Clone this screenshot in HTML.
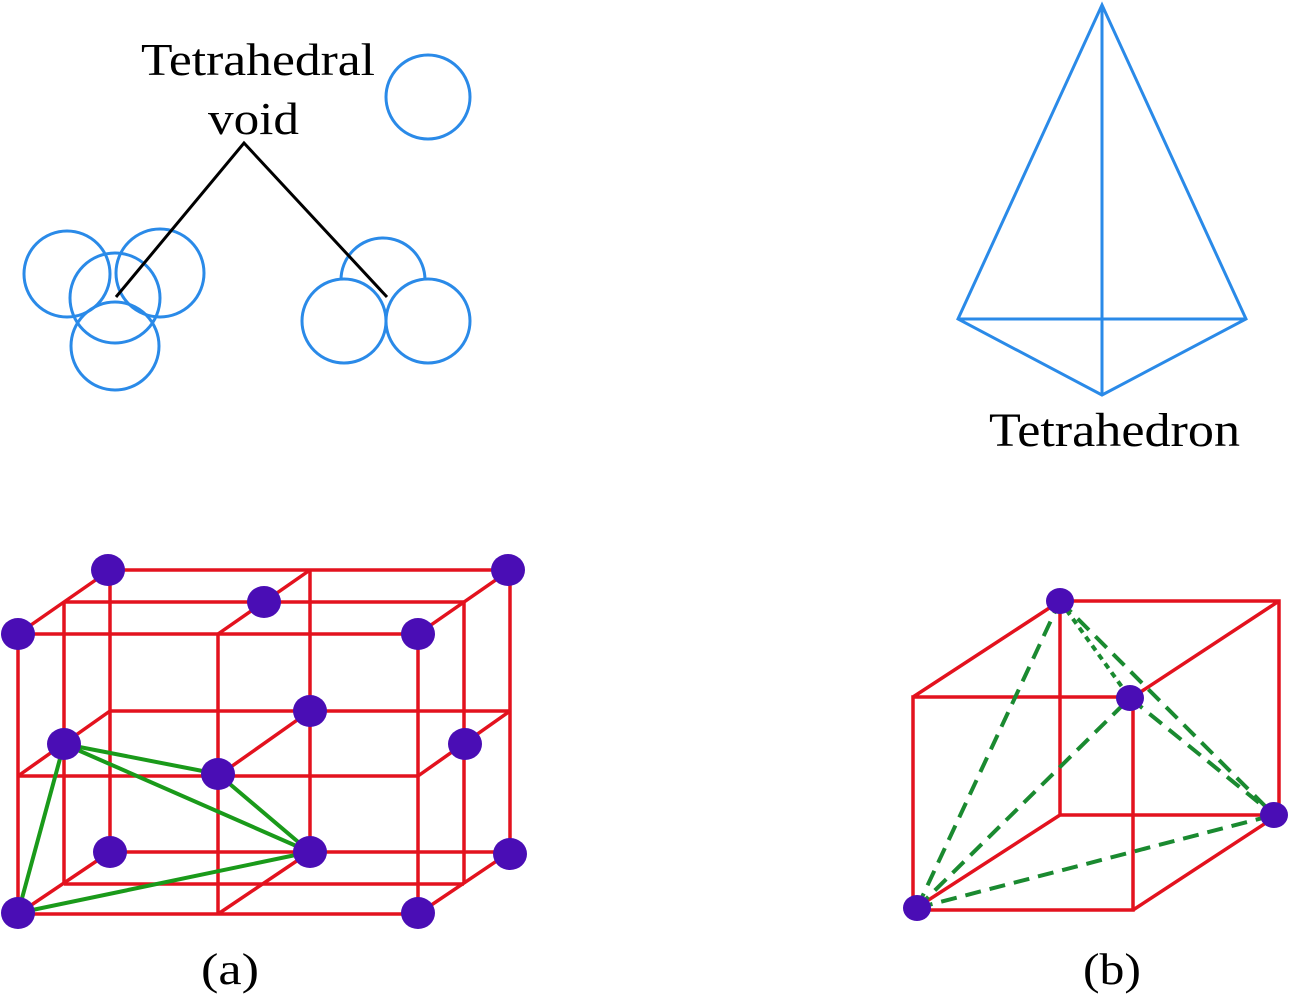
<!DOCTYPE html>
<html><head><style>body{margin:0;background:#fff}svg{display:block}</style></head><body>
<svg width="1289" height="1004" viewBox="0 0 1289 1004" xmlns="http://www.w3.org/2000/svg">
<g fill="none" stroke="#2a8ae8" stroke-width="3">
<circle cx="428" cy="97" r="42"/>
<circle cx="67" cy="274" r="43"/>
<circle cx="160" cy="273" r="44"/>
<circle cx="115" cy="298" r="45"/>
<circle cx="115" cy="346" r="44"/>
<circle cx="383" cy="280" r="42"/>
<circle cx="344" cy="321" r="42" fill="#fff"/>
<circle cx="428" cy="321" r="42" fill="#fff"/>
<path d="M1102 5L958 319L1102 395L1246 319ZM1102 5V395M958 319H1246"/>
</g>
<path d="M116 297L244 143L387 297" fill="none" stroke="#000" stroke-width="3"/>
<g font-family="Liberation Serif, serif" fill="#000">
<text x="141" y="75" font-size="46" textLength="234" lengthAdjust="spacingAndGlyphs">Tetrahedral</text>
<text x="208" y="134" font-size="46" textLength="91" lengthAdjust="spacingAndGlyphs">void</text>
<text x="989" y="446" font-size="48" textLength="251" lengthAdjust="spacingAndGlyphs">Tetrahedron</text>
<text x="201" y="984" font-size="44" textLength="58" lengthAdjust="spacingAndGlyphs">(a)</text>
<text x="1083" y="984" font-size="44" textLength="58" lengthAdjust="spacingAndGlyphs">(b)</text>
</g>
<g stroke="#e3121e" stroke-width="3.5" fill="none">
<path d="M18 634H418M18 776H418M18 914H418M18 634V914M218 634V914M418 634V914"/>
<path d="M110 570H510M110 711H510M110 852H510M110 570V852M310 570V852M510 570V852"/>
<path d="M64 602H464M64 884H464M64 602V884M464 602V884"/>
<path d="M18 634L110 570M218 634L310 570M418 634L510 570M18 776L110 711M218 776L310 711M418 776L510 711M18 914L110 852M218 914L310 852M418 914L510 852"/>
<path d="M913 697H1133V910H913ZM1060 601H1279V815H1060V601M913 697L1060 601M1133 697L1279 601M913 910L1060 815M1133 910L1278 815"/>
</g>
<g stroke="#1a9a1a" stroke-width="4" fill="none">
<path d="M64 744L218 774M64 744L310 852M218 774L310 852M64 744L18 913L310 852"/>
</g>
<g stroke="#1a8a30" stroke-width="4" fill="none">
<path d="M917 908L1060 601M917 908L1130 698M917 908L1274 815M1130 698L1274 815M1060 601L1274 815" stroke-dasharray="16 9"/>
<path d="M1060 601L1130 698" stroke-dasharray="6 5"/>
</g>
<g fill="#4a0db5">
<ellipse cx="18" cy="634" rx="17" ry="16"/><ellipse cx="108" cy="570" rx="17" ry="16"/>
<ellipse cx="264" cy="602" rx="17" ry="16"/><ellipse cx="508" cy="570" rx="17" ry="16"/>
<ellipse cx="418" cy="634" rx="17" ry="16"/><ellipse cx="310" cy="711" rx="17" ry="16"/>
<ellipse cx="64" cy="744" rx="17" ry="16"/><ellipse cx="218" cy="774" rx="17" ry="16"/>
<ellipse cx="465" cy="744" rx="17" ry="16"/><ellipse cx="110" cy="852" rx="17" ry="16"/>
<ellipse cx="310" cy="852" rx="17" ry="16"/><ellipse cx="510" cy="854" rx="17" ry="16"/>
<ellipse cx="18" cy="913" rx="17" ry="16"/><ellipse cx="418" cy="913" rx="17" ry="16"/>
<ellipse cx="1060" cy="601" rx="14" ry="13"/><ellipse cx="1130" cy="698" rx="14" ry="13"/>
<ellipse cx="1274" cy="815" rx="14" ry="13"/><ellipse cx="917" cy="908" rx="14" ry="13"/>
</g>
</svg>
</body></html>
